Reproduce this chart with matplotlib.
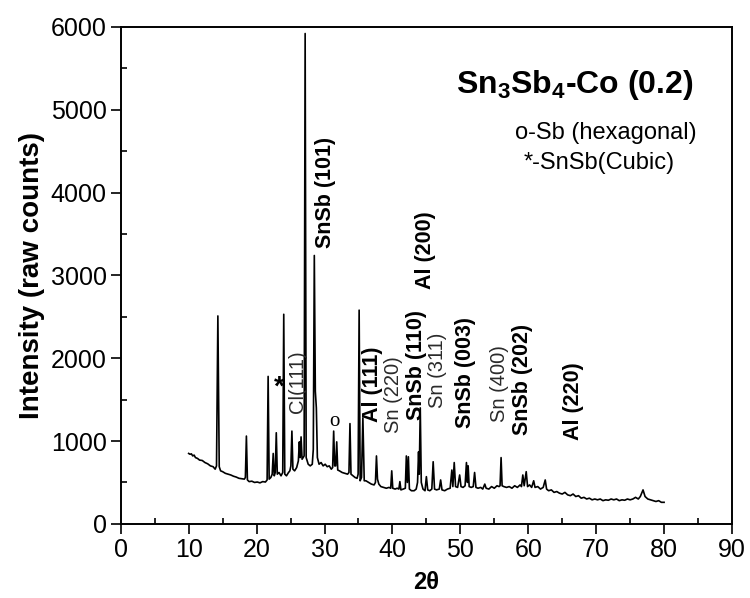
import sys

import numpy as np
from matplotlib import pyplot as plt
from matplotlib.ticker import MultipleLocator

plt.rcParams['font.family'] = ['Liberation Sans', 'DejaVu Sans']
plt.rcParams['mathtext.fontset'] = 'custom'
plt.rcParams['mathtext.rm'] = 'Liberation Sans'
plt.rcParams['mathtext.bf'] = 'Liberation Sans:bold'

#######################################################
# pattern: 2theta (deg) and counts

two_theta = [
    10.0, 10.2, 10.4, 10.6, 10.8, 11.0, 11.3, 11.6, 12.0, 12.4, 12.8, 13.2,
    13.6, 13.9, 14.1, 14.3, 14.5, 14.7, 15.0, 15.4, 15.8, 16.2, 16.6, 17.0,
    17.4, 17.8, 18.2, 18.35, 18.5, 18.65, 18.9, 19.3, 19.7, 20.1, 20.5, 20.9,
    21.3, 21.55, 21.7, 21.85, 22.1, 22.3, 22.45, 22.6, 22.75, 22.9, 23.05, 23.3,
    23.6, 23.85, 24.0, 24.15, 24.4, 24.7, 24.9, 25.05, 25.2, 25.35, 25.6, 25.9,
    26.15, 26.3, 26.42, 26.55, 26.7, 27.0, 27.15, 27.3, 27.6, 27.9, 28.2, 28.35,
    28.5, 28.65, 28.8, 28.95, 29.2, 29.5, 29.8, 30.1, 30.4, 30.7, 31.0, 31.2,
    31.35, 31.5, 31.65, 31.8, 31.95, 32.2, 32.6, 33.0, 33.4, 33.6, 33.75, 33.9,
    34.2, 34.5, 34.8, 34.95, 35.1, 35.25, 35.45, 35.65, 35.85, 36.1, 36.5, 36.9,
    37.3, 37.5, 37.65, 37.8, 38.0, 38.3, 38.7, 39.1, 39.5, 39.75, 39.9, 40.05,
    40.4, 40.7, 40.95, 41.1, 41.25, 41.6, 41.9, 42.05, 42.2, 42.35, 42.5, 42.8,
    43.2, 43.5, 43.7, 43.85, 43.95, 44.1, 44.25, 44.5, 44.8, 45.0, 45.2, 45.5,
    45.8, 46.0, 46.2, 46.5, 46.9, 47.1, 47.3, 47.7, 48.1, 48.5, 48.75, 48.9,
    49.1, 49.3, 49.6, 49.9, 50.1, 50.4, 50.7, 50.9, 51.05, 51.15, 51.3, 51.6,
    51.9, 52.1, 52.3, 52.6, 53.0, 53.3, 53.6, 53.8, 54.2, 54.6, 55.0, 55.4,
    55.7, 55.85, 56.0, 56.15, 56.4, 56.8, 57.2, 57.6, 58.0, 58.4, 58.8, 59.0,
    59.2, 59.4, 59.7, 59.9, 60.2, 60.5, 60.8, 61.0, 61.4, 61.8, 62.2, 62.5,
    62.7, 63.0, 63.4, 63.8, 64.2, 64.6, 65.0, 65.4, 65.8, 66.2, 66.6, 67.0,
    67.4, 67.8, 68.2, 68.6, 69.0, 69.4, 69.8, 70.2, 70.6, 71.0, 71.4, 71.8,
    72.2, 72.6, 73.0, 73.4, 73.8, 74.2, 74.6, 75.0, 75.4, 75.8, 76.2, 76.5,
    76.9, 77.2, 77.6, 78.0, 78.4, 78.8, 79.2, 79.6, 80.0,
]

counts = [
    850, 840, 845, 820, 830, 800, 790, 770, 765, 740, 725, 700,
    690, 660, 700, 2510, 690, 640, 630, 610, 600, 590, 575, 565,
    550, 545, 540, 560, 1060, 530, 510, 515, 500, 505, 495, 510,
    505, 530, 1780, 540, 560, 600, 850, 580, 620, 1100, 600, 620,
    580, 620, 2530, 600, 580, 620, 640, 700, 1120, 660, 640, 680,
    760, 990, 800, 1050, 780, 820, 5920, 800, 720, 700, 720, 900,
    3240, 1600, 1400, 800, 720, 740, 700, 720, 690, 700, 660, 680,
    1120, 700, 700, 990, 650, 640, 620, 610, 600, 620, 1210, 600,
    580, 560, 550, 600, 2580, 520, 560, 1280, 520, 520, 500, 480,
    470, 500, 820, 540, 480, 450, 440, 430, 440, 430, 640, 430,
    420, 430, 420, 510, 410, 420, 430, 820, 500, 810, 420, 400,
    400, 420, 500, 870, 600, 1400, 500, 420, 400, 570, 410, 400,
    420, 750, 420, 410, 420, 530, 410, 400, 420, 430, 650, 450,
    740, 450, 440, 590, 450, 440, 460, 740, 500, 700, 450, 440,
    450, 620, 440, 430, 440, 420, 480, 430, 420, 450, 430, 460,
    450, 460, 800, 460, 450, 440, 450, 430, 460, 440, 470, 450,
    590, 460, 630, 450, 470, 440, 520, 440, 450, 420, 440, 530,
    420, 400, 410, 380, 390, 370, 360, 380, 350, 340, 360, 330,
    340, 310, 320, 300, 310, 290, 300, 290, 300, 280, 290, 285,
    300, 290, 300, 280, 290, 285, 300, 290, 300, 320, 300, 330,
    410, 330, 300, 290, 280, 270, 280, 260, 260,
]

# peak labels: text, 2theta, bottom of the text (counts), bold?
label_texts = ['SnSb (101)', 'Al (200)', 'Cl(111)', 'Al (111)', 'Sn (220)',
               'SnSb (110)', 'Sn (311)', 'SnSb (003)', 'Sn (400)',
               'SnSb (202)', 'Al (220)']
label_x = [30.2, 44.8, 26.0, 37.0, 40.2, 43.6, 46.6, 50.7, 55.8, 59.2, 66.6]
label_y = [3330, 2830, 1340, 1235, 1100, 1256, 1400, 1160, 1232, 1075, 1015]
label_bold = [True, True, False, True, False, True, False, True, False,
              True, True]

x_ticks = [0, 10, 20, 30, 40, 50, 60, 70, 80, 90]
y_ticks = [0, 1000, 2000, 3000, 4000, 5000, 6000]

#######################################################

def main():

    fig = plt.figure(figsize=(7.5, 5.98), dpi=100)
    ax = fig.add_axes([0.161, 0.124, 0.815, 0.831])

    ax.plot(two_theta, counts, color='k', linewidth=1.2)

    ax.set_xlim(0, 90)
    ax.set_ylim(0, 6000)
    ax.set_xticks(x_ticks)
    ax.set_yticks(y_ticks)
    ax.xaxis.set_minor_locator(MultipleLocator(5))
    ax.yaxis.set_minor_locator(MultipleLocator(500))

    ax.tick_params(which='major', direction='out', length=7, width=1.2,
                   labelsize=18, pad=3)
    ax.tick_params(which='minor', direction='in', length=4, width=1.2)
    for s in ax.spines.values():
        s.set_linewidth(1.4)

    ax.set_xlabel('2\u03b8', fontsize=17, fontweight='bold', labelpad=7)
    ax.set_ylabel('Intensity (raw counts)', fontsize=20, fontweight='bold',
                  labelpad=4)

    for t, x, y, b in zip(label_texts, label_x, label_y, label_bold):
        ax.text(x, y, t, rotation=90, ha='center', va='bottom',
                fontsize=15.5 if b else 14.5,
                fontweight='bold' if b else 'normal',
                color='k' if b else '#2a2a2a')

    ax.text(23.4, 1640, '*', ha='center', va='center', fontsize=20,
            fontweight='bold')
    ax.text(31.4, 1235, 'o', ha='center', va='center', fontsize=15,
            family='Liberation Serif')

    ax.text(66.8, 5300, r'Sn$_\mathbf{3}$Sb$_\mathbf{4}$-Co (0.2)',
            ha='center', va='center', fontsize=23, fontweight='bold')
    ax.text(71.4, 4720, 'o-Sb (hexagonal)', ha='center', va='center',
            fontsize=17)
    ax.text(70.5, 4360, '*-SnSb(Cubic)', ha='center', va='center',
            fontsize=17)

    fig.savefig('out.png', dpi=100)


#######################################################

if __name__ == '__main__':
    sys.exit(main())
